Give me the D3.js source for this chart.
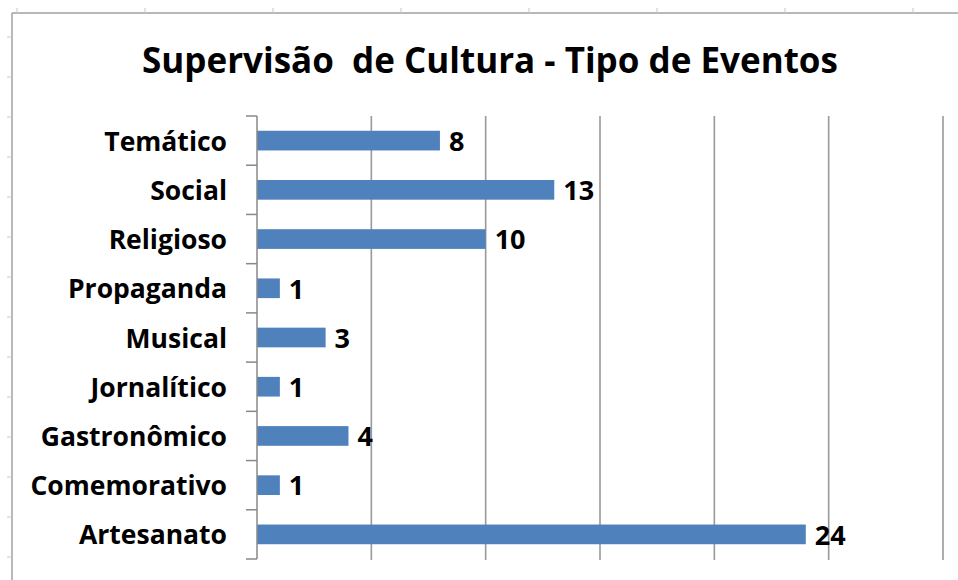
<!DOCTYPE html>
<html>
<head>
<meta charset="utf-8">
<script src="https://cdn.jsdelivr.net/npm/d3@7"></script>
<style>
  body { margin: 0; background: #fff; }
  text { font-family: "Open Sans", Lato, sans-serif; font-weight: bold; fill: #000; }
</style>
</head>
<body>
<script>
// data, top to bottom as drawn
let categories = ["Temático", "Social", "Religioso", "Propaganda", "Musical", "Jornalítico", "Gastronômico", "Comemorativo", "Artesanato"]
let values = [8, 13, 10, 1, 3, 1, 4, 1, 24]
let xTicks = [0, 5, 10, 15, 20, 25, 30]
let title = "Supervisão  de Cultura - Tipo de Eventos"

let width = 958, height = 580
let plotLeft = 257, plotRight = 943, plotTop = 116, plotBottom = 559

let svg = d3.select('body').append('svg')
  .attr('width', width).attr('height', height)

// spreadsheet frame behind the chart
svg.append('line').attr('x1', 12).attr('x2', width).attr('y1', 13).attr('y2', 13)
  .attr('stroke', '#a0a0a0').attr('stroke-width', 1.5)
svg.append('line').attr('x1', 12).attr('x2', 12).attr('y1', 13).attr('y2', height)
  .attr('stroke', '#a0a0a0').attr('stroke-width', 1.5)
svg.selectAll('.ctick').data(d3.range(17, width, 128)).enter().append('line')
  .attr('x1', d => d).attr('x2', d => d).attr('y1', 8).attr('y2', 13)
  .attr('stroke', '#c8c8c8')
svg.selectAll('.rtick').data(d3.range(37, height, 40)).enter().append('line')
  .attr('x1', 7).attr('x2', 12).attr('y1', d => d).attr('y2', d => d)
  .attr('stroke', '#c8c8c8')

let x = d3.scaleLinear().domain([0, 30]).range([plotLeft, plotRight])
let y = d3.scaleBand().domain(categories).range([plotTop, plotBottom])
  .paddingInner(0.6).paddingOuter(0.3)

// gridlines
svg.append('g')
  .selectAll('line').data(xTicks.slice(1)).enter().append('line')
  .attr('x1', d => x(d)).attr('x2', d => x(d))
  .attr('y1', plotTop).attr('y2', plotBottom + 1)
  .attr('stroke', '#999').attr('stroke-width', 1.6)

svg.append('text')
  .attr('x', 490).attr('y', 73)
  .attr('text-anchor', 'middle')
  .attr('font-size', 35)
  .style('white-space', 'pre')
  .text(title)

svg.selectAll('.bar').data(values).enter().append('rect')
  .attr('x', x(0))
  .attr('y', (d, i) => y(categories[i]))
  .attr('width', d => x(d) - x(0))
  .attr('height', y.bandwidth())
  .attr('fill', '#4f81bd')

svg.selectAll('.val').data(values).enter().append('text')
  .attr('x', d => x(d) + 9)
  .attr('y', (d, i) => y(categories[i]) + y.bandwidth() / 2)
  .attr('dy', '0.38em')
  .attr('font-size', 27)
  .text(d => d)

// category axis with ticks between bands
let axis = svg.append('g')
axis.append('line').attr('x1', plotLeft).attr('x2', plotLeft).attr('y1', plotTop).attr('y2', plotBottom)
  .attr('stroke', '#888').attr('stroke-width', 1.5)
let step = y.step()
axis.selectAll('.tk').data(d3.range(categories.length + 1)).enter().append('line')
  .attr('x1', plotLeft - 11).attr('x2', plotLeft)
  .attr('y1', i => plotTop + i * step).attr('y2', i => plotTop + i * step)
  .attr('stroke', '#888').attr('stroke-width', 1.5)
axis.selectAll('text').data(categories).enter().append('text')
  .attr('x', 227)
  .attr('y', d => y(d) + y.bandwidth() / 2)
  .attr('dy', '0.38em')
  .attr('text-anchor', 'end')
  .attr('font-size', 26.5)
  .text(d => d)
</script>
</body>
</html>
